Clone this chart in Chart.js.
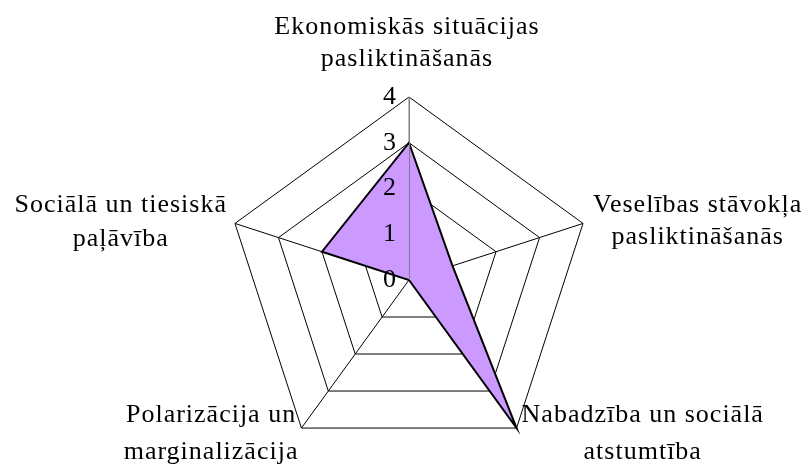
<!DOCTYPE html>
<html>
<head>
<meta charset="utf-8">
<script src="https://cdn.jsdelivr.net/npm/chart.js@4"></script>
<style>
  html, body { margin: 0; padding: 0; background: #fff; overflow: hidden; }
  #wrap { width: 810px; height: 467px; }
</style>
</head>
<body>
<div id="wrap"><canvas id="chartjs_radar"></canvas></div>
<script>
var categories = [
	['Ekonomiskās situācijas', 'pasliktināšanās'],
	['Veselības stāvokļa', 'pasliktināšanās'],
	['Nabadzība un sociālā', 'atstumtība'],
	['Polarizācija un', 'marginalizācija'],
	['Sociālā un tiesiskā', 'paļāvība']
];
var values = [3, 1, 4, 0, 2];
var tickValues = [0, 1, 2, 3, 4];

var fontFace = '"Liberation Serif", "Times New Roman", serif';

// where each label block sits relative to its spoke end
var labelPlace = [
	{ align: 'center', dx: -2, lines: [-63, -31] },
	{ align: 'left', dx: 10, lines: [-11, 21] },
	{ align: 'left', dx: 5, lines: [-6, 31] },
	{ align: 'right', dx: -3, lines: [-6, 31] },
	{ align: 'right', dx: -8, lines: [-11, 23] }
];

var serifLabels = {
	id: 'serifLabels',
	afterDatasetsDraw: function (chart) {
		var scale = chart.scales.r;
		var ctx = chart.ctx;
		// first spoke is drawn grey, on top of the fill
		var c = scale.getPointPosition(0, 0);
		var e = scale.getPointPosition(0, scale.drawingArea);
		ctx.save();
		ctx.strokeStyle = '#7f7f7f';
		ctx.lineWidth = 1;
		ctx.beginPath();
		ctx.moveTo(c.x + 0.5, c.y);
		ctx.lineTo(e.x + 0.5, e.y);
		ctx.stroke();
		ctx.restore();
	},
	afterDraw: function (chart) {
		var scale = chart.scales.r;
		var ctx = chart.ctx;
		ctx.save();
		ctx.font = '26px ' + fontFace;
		ctx.letterSpacing = '1px';
		ctx.fillStyle = '#000';
		ctx.textAlign = 'center';
		ctx.textBaseline = 'alphabetic';
		categories.forEach(function (lines, i) {
			var p = scale.getPointPosition(i, scale.drawingArea);
			var place = labelPlace[i];
			var w = 0;
			lines.forEach(function (l) { w = Math.max(w, ctx.measureText(l).width); });
			var cx = p.x + place.dx;
			if (place.align === 'left') cx += w / 2;
			if (place.align === 'right') cx -= w / 2;
			lines.forEach(function (l, j) {
				ctx.fillText(l, cx, p.y + place.lines[j]);
			});
		});
		ctx.restore();
	}
};

var ctx = document.getElementById('chartjs_radar').getContext('2d');
var myChart = new Chart(ctx, {
	type: 'radar',
	data: {
		labels: categories,
		datasets: [{
			label: 'Series 1',
			data: values,
			backgroundColor: '#cc99ff',
			borderColor: '#000000',
			borderWidth: 2,
			pointRadius: 0,
			fill: true
		}]
	},
	options: {
		responsive: true,
		maintainAspectRatio: false,
		animation: false,
		layout: { padding: { top: 97, bottom: 4, left: 226, right: 218 } },
		plugins: {
			legend: { display: false },
			tooltip: { enabled: false }
		},
		scales: {
			r: {
				min: -0.000001,
				max: 4,
				afterBuildTicks: function (scale) {
					scale.ticks = tickValues.map(function (v) { return { value: v }; });
				},
				ticks: {
					z: 1,
					showLabelBackdrop: false,
					// cancels the space kept for backdrops, which are not drawn
					backdropPadding: -13,
					color: '#000',
					font: { family: fontFace, size: 26 },
					callback: function (v) { return v + '\u2002\u2002\u2002'; }
				},
				grid: { color: '#000', lineWidth: 1 },
				angleLines: {
					color: function (c) { return c.index === 0 ? '#7f7f7f' : '#000'; },
					lineWidth: 1
				},
				pointLabels: { display: false }
			}
		}
	},
	plugins: [serifLabels]
});
</script>
</body>
</html>
